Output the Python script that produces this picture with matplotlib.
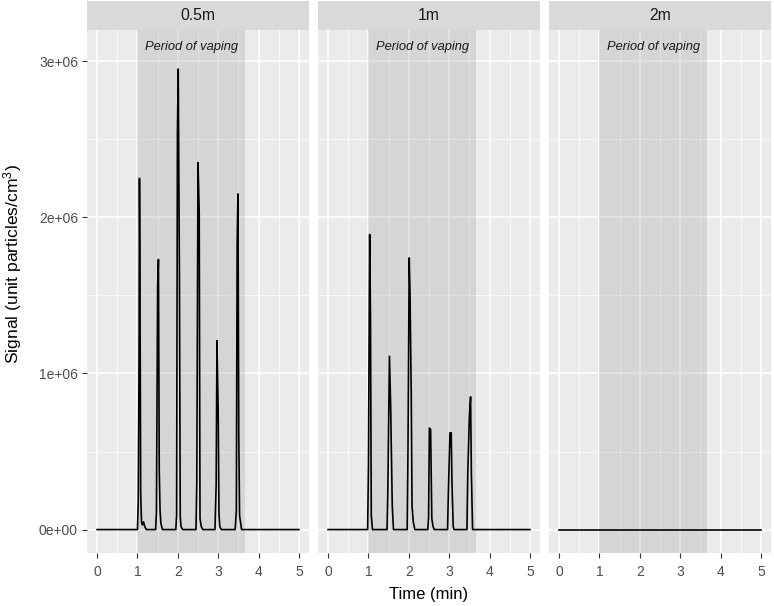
import matplotlib
matplotlib.use("Agg")
import matplotlib.pyplot as plt
from matplotlib.ticker import MultipleLocator, FixedLocator

plt.rcParams['font.family'] = ['Liberation Sans', 'DejaVu Sans']

panels = ["0.5m", "1m", "2m"]

# (time in min, signal in particles/cm^3)
t_05 = [0.0, 1.0, 1.02, 1.04, 1.05, 1.06, 1.08, 1.10, 1.12, 1.15, 1.18, 1.22,
        1.45, 1.47, 1.50, 1.52, 1.54, 1.56, 1.58, 1.62,
        1.95, 1.97, 1.99, 2.01, 2.04, 2.06, 2.08, 2.12,
        2.45, 2.47, 2.50, 2.53, 2.55, 2.58, 2.62,
        2.92, 2.95, 2.97, 3.00, 3.02, 3.04, 3.08,
        3.42, 3.45, 3.47, 3.49, 3.51, 3.53, 3.58, 5.0]
s_05 = [0, 0, 0.18e6, 1.08e6, 2.25e6, 1.78e6, 0.23e6, 0.05e6, 0.03e6, 0.05e6, 0.02e6, 0,
        0, 0.11e6, 1.56e6, 1.73e6, 0.38e6, 0.12e6, 0.04e6, 0,
        0, 0.09e6, 2.53e6, 2.95e6, 1.62e6, 0.08e6, 0.02e6, 0,
        0, 0.31e6, 2.35e6, 2.03e6, 0.07e6, 0.02e6, 0,
        0, 0.29e6, 1.21e6, 0.76e6, 0.10e6, 0.02e6, 0,
        0, 0.12e6, 1.83e6, 2.15e6, 0.60e6, 0.09e6, 0, 0]

t_1 = [0.0, 0.98, 1.00, 1.03, 1.05, 1.07, 1.10,
       1.46, 1.48, 1.52, 1.55, 1.59, 1.62,
       1.96, 1.98, 2.01, 2.03, 2.06, 2.08, 2.11, 2.15,
       2.47, 2.49, 2.51, 2.54, 2.57, 2.60, 2.63,
       2.96, 2.98, 3.02, 3.05, 3.07, 3.10, 3.12,
       3.44, 3.46, 3.50, 3.53, 3.55, 3.58, 5.0]
s_1 = [0, 0, 0.42e6, 1.89e6, 1.38e6, 0.09e6, 0,
       0, 0.24e6, 1.11e6, 0.79e6, 0.15e6, 0,
       0, 0.53e6, 1.74e6, 1.51e6, 0.87e6, 0.15e6, 0.05e6, 0,
       0, 0.08e6, 0.65e6, 0.64e6, 0.07e6, 0.02e6, 0,
       0, 0.24e6, 0.62e6, 0.62e6, 0.29e6, 0.02e6, 0,
       0, 0.35e6, 0.72e6, 0.85e6, 0.36e6, 0, 0]

t_2 = [0.0, 5.0]
s_2 = [0, 0]

series = [(t_05, s_05), (t_1, s_1), (t_2, s_2)]

vape_start, vape_end = 1.0, 3.66
label_text = "Period of vaping"
label_y = 3.09e6

x_ticks = [0, 1, 2, 3, 4, 5]
y_ticks = [0, 1e6, 2e6, 3e6]
y_labels = ["0e+00", "1e+06", "2e+06", "3e+06"]

W, H = 774, 606
fig = plt.figure(figsize=(W / 100, H / 100), dpi=100)

lefts = [87, 318, 549]
pw = 222
ptop, pbot = 30, 553
strip_top = 1

for i, (name, (t, s)) in enumerate(zip(panels, series)):
    ax = fig.add_axes([lefts[i] / W, 1 - pbot / H, pw / W, (pbot - ptop) / H])
    ax.set_facecolor('#ebebeb')
    ax.set_xlim(-0.25, 5.25)
    ax.set_ylim(-0.15e6, 3.2e6)
    ax.xaxis.set_major_locator(FixedLocator(x_ticks))
    ax.xaxis.set_minor_locator(MultipleLocator(0.5))
    ax.yaxis.set_major_locator(FixedLocator(y_ticks))
    ax.yaxis.set_minor_locator(MultipleLocator(0.5e6))
    ax.grid(which='major', color='white', linewidth=1.1)
    ax.grid(which='minor', color='white', linewidth=0.55)
    ax.set_axisbelow(True)
    for sp in ax.spines.values():
        sp.set_visible(False)
    ax.axvspan(vape_start, vape_end, color='#808080', alpha=0.2, linewidth=0, zorder=1)
    ax.plot(t, s, color='black', linewidth=1.2, zorder=3)
    ax.text((vape_start + vape_end) / 2, label_y, label_text, style='italic',
            ha='center', va='center', fontsize=9.3, color='#1a1a1a', zorder=4)
    ax.tick_params(which='minor', length=0)
    ax.tick_params(which='major', length=3.5, color='#333333', labelcolor='#4d4d4d',
                   labelsize=10, width=0.8, pad=3)
    ax.tick_params(axis='x', pad=5)
    ax.set_xticklabels([str(v) for v in x_ticks])
    if i == 0:
        ax.set_yticklabels(y_labels)
    else:
        ax.tick_params(axis='y', which='both', left=False, labelleft=False)
    # strip
    sax = fig.add_axes([lefts[i] / W, 1 - ptop / H, pw / W, (ptop - strip_top) / H])
    sax.set_facecolor('#d9d9d9')
    sax.set_xticks([]); sax.set_yticks([])
    for sp in sax.spines.values():
        sp.set_visible(False)
    sax.text(0.5, 0.5, name, ha='center', va='center', fontsize=11.3, color='#1a1a1a',
             transform=sax.transAxes)

fig.text((lefts[0] + lefts[2] + pw) / 2 / W, 1 - 594 / H, "Time (min)", ha='center',
         va='center', fontsize=12, color='black')
fig.text(13 / W, 1 - 264 / H, "Signal (unit particles/cm$\\mathregular{^3}$)",
         rotation=90, ha='center', va='center', fontsize=12.6, color='black')

fig.savefig('out.png', dpi=100)
